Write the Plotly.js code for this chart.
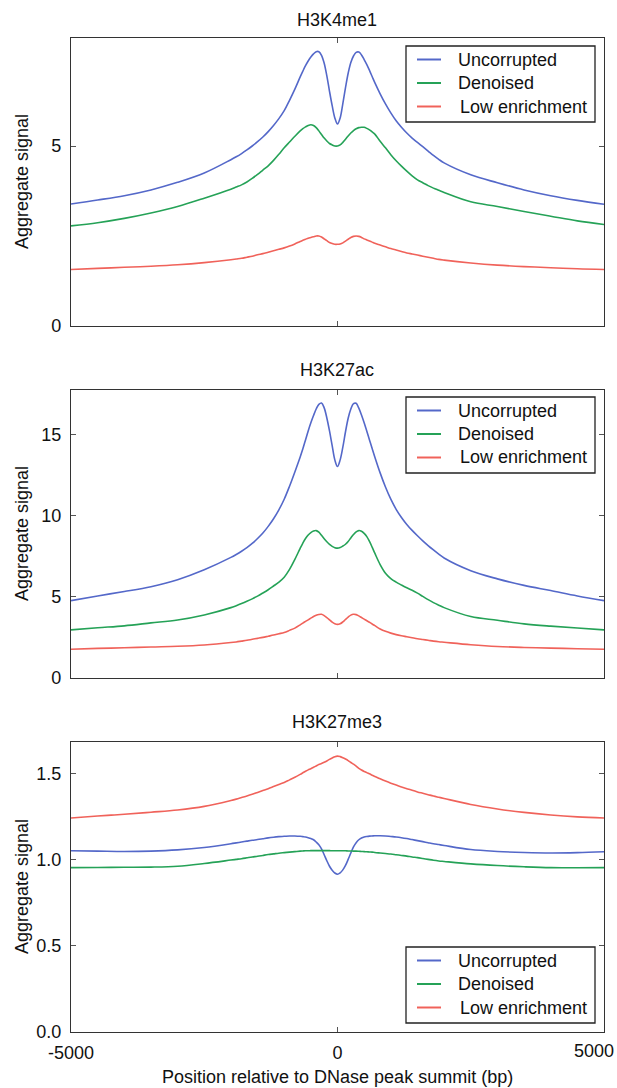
<!DOCTYPE html>
<html>
<head>
<meta charset="utf-8">
<script src="https://cdn.plot.ly/plotly-3.0.1.min.js"></script>
<style>html,body{margin:0;padding:0;background:#fff;}#chart{width:617px;height:1088px;}</style>
</head>
<body>
<div id="chart"></div>
<script>
// Positions relative to DNase peak summit (bp)
const positions = [
  -5000,-4500,-4000,-3500,-3000,-2500,
  -2000,-1900,-1800,-1700,-1600,-1500,-1400,-1300,-1200,-1100,-1000,-900,-800,-700,
  -650,-600,-550,-500,-450,-400,-350,-300,-250,-200,-150,-100,-50,0,50,100,150,200,250,300,350,400,450,500,550,600,650,
  700,800,900,1000,1100,1200,1300,1400,1500,1600,1700,1800,1900,2000,
  2500,3000,3500,4000,4500,5000];

const seriesNames = ["Uncorrupted", "Denoised", "Low enrichment"];
const panelTitles = ["H3K4me1", "H3K27ac", "H3K27me3"];
const xTickVals = [-5000, 0, 5000];
const xTickText = ["-5000", "0", ""];
const xEdgeLabel = "5000";

// H3K4me1
const h3k4me1_uncorrupted = [
  3.39,3.50,3.62,3.78,3.99,4.25,
  4.62,4.70,4.79,4.89,5.00,5.12,5.25,5.40,5.57,5.76,5.98,6.27,6.58,6.92,
  7.08,7.23,7.36,7.47,7.56,7.62,7.62,7.52,7.30,6.95,6.52,6.12,5.78,5.61,5.78,6.18,6.62,7.02,7.32,7.50,7.60,7.61,7.53,7.40,7.26,7.10,6.93,
  6.76,6.45,6.17,5.92,5.70,5.52,5.36,5.22,5.10,4.98,4.86,4.74,4.63,4.53,
  4.20,3.98,3.78,3.62,3.49,3.38];
const h3k4me1_denoised = [
  2.78,2.87,2.99,3.14,3.32,3.55,
  3.80,3.86,3.92,4.00,4.10,4.21,4.33,4.45,4.60,4.77,4.95,5.11,5.27,5.42,
  5.48,5.53,5.57,5.59,5.57,5.51,5.42,5.32,5.22,5.14,5.07,5.03,5.00,5.00,5.03,5.10,5.19,5.28,5.36,5.43,5.48,5.51,5.52,5.52,5.49,5.45,5.39,
  5.33,5.13,4.95,4.76,4.59,4.44,4.30,4.17,4.06,3.98,3.90,3.83,3.77,3.71,
  3.45,3.32,3.18,3.05,2.92,2.82];
const h3k4me1_low = [
  1.57,1.60,1.63,1.66,1.70,1.76,
  1.84,1.86,1.88,1.91,1.94,1.98,2.01,2.05,2.09,2.13,2.17,2.22,2.28,2.35,
  2.38,2.41,2.44,2.46,2.48,2.50,2.50,2.47,2.42,2.37,2.32,2.29,2.27,2.27,2.28,2.31,2.36,2.41,2.46,2.49,2.50,2.49,2.46,2.42,2.39,2.36,2.33,
  2.30,2.25,2.20,2.15,2.11,2.07,2.03,2.00,1.97,1.94,1.91,1.88,1.85,1.83,
  1.75,1.69,1.65,1.62,1.59,1.57];

// H3K27ac
const h3k27ac_uncorrupted = [
  4.76,5.05,5.32,5.62,6.05,6.66,
  7.42,7.60,7.80,8.02,8.28,8.58,8.92,9.33,9.80,10.35,11.00,11.80,12.68,13.60,
  14.10,14.65,15.20,15.70,16.15,16.55,16.84,16.92,16.62,16.00,15.20,14.30,13.42,13.01,13.42,14.20,15.15,15.98,16.55,16.88,16.90,16.60,16.18,15.70,15.18,14.65,14.12,
  13.60,12.62,11.75,11.00,10.38,9.88,9.45,9.08,8.75,8.44,8.15,7.88,7.62,7.38,
  6.60,6.10,5.70,5.38,5.05,4.76];
const h3k27ac_denoised = [
  2.96,3.09,3.21,3.39,3.57,3.88,
  4.33,4.45,4.58,4.72,4.87,5.04,5.23,5.43,5.66,5.90,6.20,6.68,7.30,7.98,
  8.30,8.58,8.80,8.95,9.04,9.07,8.97,8.78,8.57,8.38,8.22,8.10,8.02,7.99,8.03,8.12,8.23,8.40,8.62,8.83,8.99,9.07,9.03,8.90,8.70,8.40,8.05,
  7.68,6.98,6.45,6.12,5.90,5.72,5.55,5.40,5.22,5.02,4.82,4.64,4.48,4.33,
  3.78,3.55,3.33,3.19,3.08,2.96];
const h3k27ac_low = [
  1.77,1.82,1.86,1.91,1.95,2.03,
  2.18,2.22,2.27,2.32,2.38,2.44,2.50,2.57,2.64,2.72,2.80,2.93,3.07,3.27,
  3.38,3.48,3.58,3.68,3.78,3.86,3.91,3.92,3.84,3.72,3.58,3.44,3.34,3.30,3.34,3.45,3.60,3.75,3.87,3.92,3.90,3.82,3.72,3.62,3.52,3.43,3.32,
  3.22,3.02,2.87,2.76,2.67,2.60,2.54,2.48,2.42,2.37,2.32,2.27,2.23,2.20,
  2.05,1.94,1.88,1.84,1.80,1.77];

// H3K27me3
const h3k27me3_uncorrupted = [
  1.053,1.051,1.049,1.051,1.058,1.072,
  1.094,1.099,1.104,1.109,1.114,1.118,1.123,1.128,1.132,1.135,1.137,1.139,1.139,1.137,
  1.135,1.133,1.129,1.124,1.117,1.104,1.088,1.064,1.030,0.995,0.963,0.940,0.924,0.917,0.925,0.942,0.968,1.003,1.040,1.075,1.100,1.117,1.127,1.133,1.136,1.138,1.139,
  1.140,1.140,1.139,1.136,1.133,1.129,1.124,1.118,1.112,1.106,1.100,1.094,1.089,1.084,
  1.060,1.049,1.043,1.040,1.042,1.047];
const h3k27me3_denoised = [
  0.955,0.956,0.957,0.958,0.963,0.979,
  0.999,1.003,1.007,1.012,1.017,1.021,1.026,1.031,1.035,1.039,1.042,1.045,1.048,1.051,
  1.052,1.053,1.053,1.054,1.054,1.054,1.054,1.054,1.054,1.054,1.054,1.053,1.053,1.053,1.053,1.053,1.053,1.052,1.052,1.051,1.051,1.050,1.049,1.048,1.047,1.046,1.045,
  1.043,1.040,1.037,1.034,1.030,1.026,1.022,1.017,1.013,1.008,1.003,0.998,0.994,0.991,
  0.977,0.967,0.960,0.955,0.954,0.955];
const h3k27me3_low = [
  1.243,1.255,1.265,1.277,1.290,1.311,
  1.345,1.353,1.362,1.371,1.381,1.392,1.403,1.414,1.426,1.438,1.450,1.465,1.480,1.497,
  1.506,1.515,1.523,1.530,1.538,1.546,1.554,1.560,1.567,1.575,1.584,1.592,1.600,1.603,1.600,1.594,1.586,1.577,1.566,1.556,1.545,1.532,1.522,1.514,1.507,1.500,1.492,
  1.485,1.471,1.458,1.446,1.435,1.424,1.414,1.404,1.395,1.387,1.379,1.371,1.364,1.357,
  1.322,1.296,1.276,1.261,1.250,1.243];

const panelSeries = [
  [h3k4me1_uncorrupted, h3k4me1_denoised, h3k4me1_low],
  [h3k27ac_uncorrupted, h3k27ac_denoised, h3k27ac_low],
  [h3k27me3_uncorrupted, h3k27me3_denoised, h3k27me3_low]
];
const yTickVals = [[0,5],[0,5,10,15],[0,0.5,1.0,1.5]];
const yTickText = [["0","5"],["0","5","10","15"],["0.0","0.5","1.0","1.5"]];
const yRanges = [[0,8.0],[0,17.72],[0,1.685]];

const colors = ["#5468c9", "#25a257", "#f0625a"];
const FONT = "Liberation Sans, Arial, Helvetica, sans-serif";

// page geometry helpers (pixels -> paper fractions)
const W = 617, H = 1088, ML = 71, MR = 13, MT = 38, MB = 56;
const PW = W - ML - MR, PH = H - MT - MB;
const px = X => (X - ML) / PW;
const py = Y => (H - MB - Y) / PH;

const traces = [];
for (let p = 0; p < 3; p++) {
  const sfx = p === 0 ? "" : String(p + 1);
  for (let s = 0; s < 3; s++) {
    traces.push({
      type: "scatter", mode: "lines",
      x: positions, y: panelSeries[p][s],
      name: seriesNames[s],
      xaxis: "x" + sfx, yaxis: "y" + sfx,
      showlegend: false,
      line: {color: colors[s], width: 1.6, shape: "spline", smoothing: 1.0},
      hoverinfo: "skip"
    });
  }
}

// panel pixel boxes (top, bottom)
const panelTopBottom = [[38, 326], [390, 678], [742, 1032]];
const domains = panelTopBottom.map(([t, b]) => [py(b), py(t)]);

function xAxis(p) {
  return {
    domain: [0, 1], range: [-5000, 5000], anchor: p === 0 ? "y" : "y" + (p + 1),
    matches: p === 0 ? undefined : "x",
    tickvals: xTickVals, ticktext: xTickText,
    showticklabels: p === 2, ticks: "inside", ticklen: 5, tickwidth: 1, tickcolor: "#555",
    mirror: "ticks", showline: true, linecolor: "#333", linewidth: 1.2,
    showgrid: false, zeroline: false, ticklabelstandoff: 4,
    tickfont: {family: FONT, size: 18, color: "#111"}
  };
}
function yAxis(p) {
  return {
    domain: domains[p], range: yRanges[p], anchor: p === 0 ? "x" : "x" + (p + 1),
    tickvals: yTickVals[p], ticktext: yTickText[p],
    ticks: "inside", ticklen: 5, tickwidth: 1, tickcolor: "#555",
    mirror: "ticks", showline: true, linecolor: "#333", linewidth: 1.2,
    showgrid: false, zeroline: false, ticklabelstandoff: 5, ticklabeloverflow: "allow",
    tickfont: {family: FONT, size: 18, color: "#111"}
  };
}

const annotations = [];
const shapes = [];
const titleCenters = [20, 370, 722];
const labelCenters = [182, 534, 887];
for (let p = 0; p < 3; p++) {
  annotations.push({text: panelTitles[p], xref: "paper", yref: "paper", x: px(337), y: py(titleCenters[p]),
    xanchor: "center", yanchor: "middle", showarrow: false, font: {family: FONT, size: 18, color: "#111"}});
  annotations.push({text: "Aggregate signal", xref: "paper", yref: "paper", x: px(22), y: py(labelCenters[p]),
    xanchor: "center", yanchor: "middle", textangle: -90, showarrow: false, font: {family: FONT, size: 18, color: "#111"}});
}
annotations.push({text: "Position relative to DNase peak summit (bp)", xref: "paper", yref: "paper",
  x: px(337), y: py(1077), xanchor: "center", yanchor: "middle", showarrow: false,
  font: {family: FONT, size: 18, color: "#111"}});
// right-edge x tick label, anchored at its tick and nudged inside the page
annotations.push({text: xEdgeLabel, xref: "x3", yref: "paper", x: xTickVals[2], y: py(1051),
  xanchor: "right", yanchor: "middle", xshift: 12, showarrow: false,
  font: {family: FONT, size: 18, color: "#111"}});

// legend boxes drawn per panel
const legendTops = [46, 397, 947];
const legendOffsets = [13.5, 37, 60.5];
for (let p = 0; p < 3; p++) {
  const t = legendTops[p];
  shapes.push({type: "rect", xref: "paper", yref: "paper", x0: px(406), x1: px(595), y0: py(t + 76), y1: py(t),
    line: {color: "#222", width: 1.3}, fillcolor: "#fff", layer: "above"});
  for (let s = 0; s < 3; s++) {
    const yy = t + legendOffsets[s];
    shapes.push({type: "line", xref: "paper", yref: "paper", x0: px(417), x1: px(441), y0: py(yy), y1: py(yy),
      line: {color: colors[s], width: 2}, layer: "above"});
    annotations.push({text: seriesNames[s], xref: "paper", yref: "paper", x: px(s === 2 ? 458 : 456), y: py(yy),
      xanchor: "left", yanchor: "middle", showarrow: false, font: {family: FONT, size: 18, color: "#111"}});
  }
}

const layout = {
  width: W, height: H,
  margin: {l: ML, r: MR, t: MT, b: MB},
  paper_bgcolor: "#fff", plot_bgcolor: "#fff",
  showlegend: false,
  xaxis: xAxis(0), xaxis2: xAxis(1), xaxis3: xAxis(2),
  yaxis: yAxis(0), yaxis2: yAxis(1), yaxis3: yAxis(2),
  annotations: annotations,
  shapes: shapes
};

Plotly.newPlot("chart", traces, layout, {displayModeBar: false, staticPlot: true});
</script>
</body>
</html>
